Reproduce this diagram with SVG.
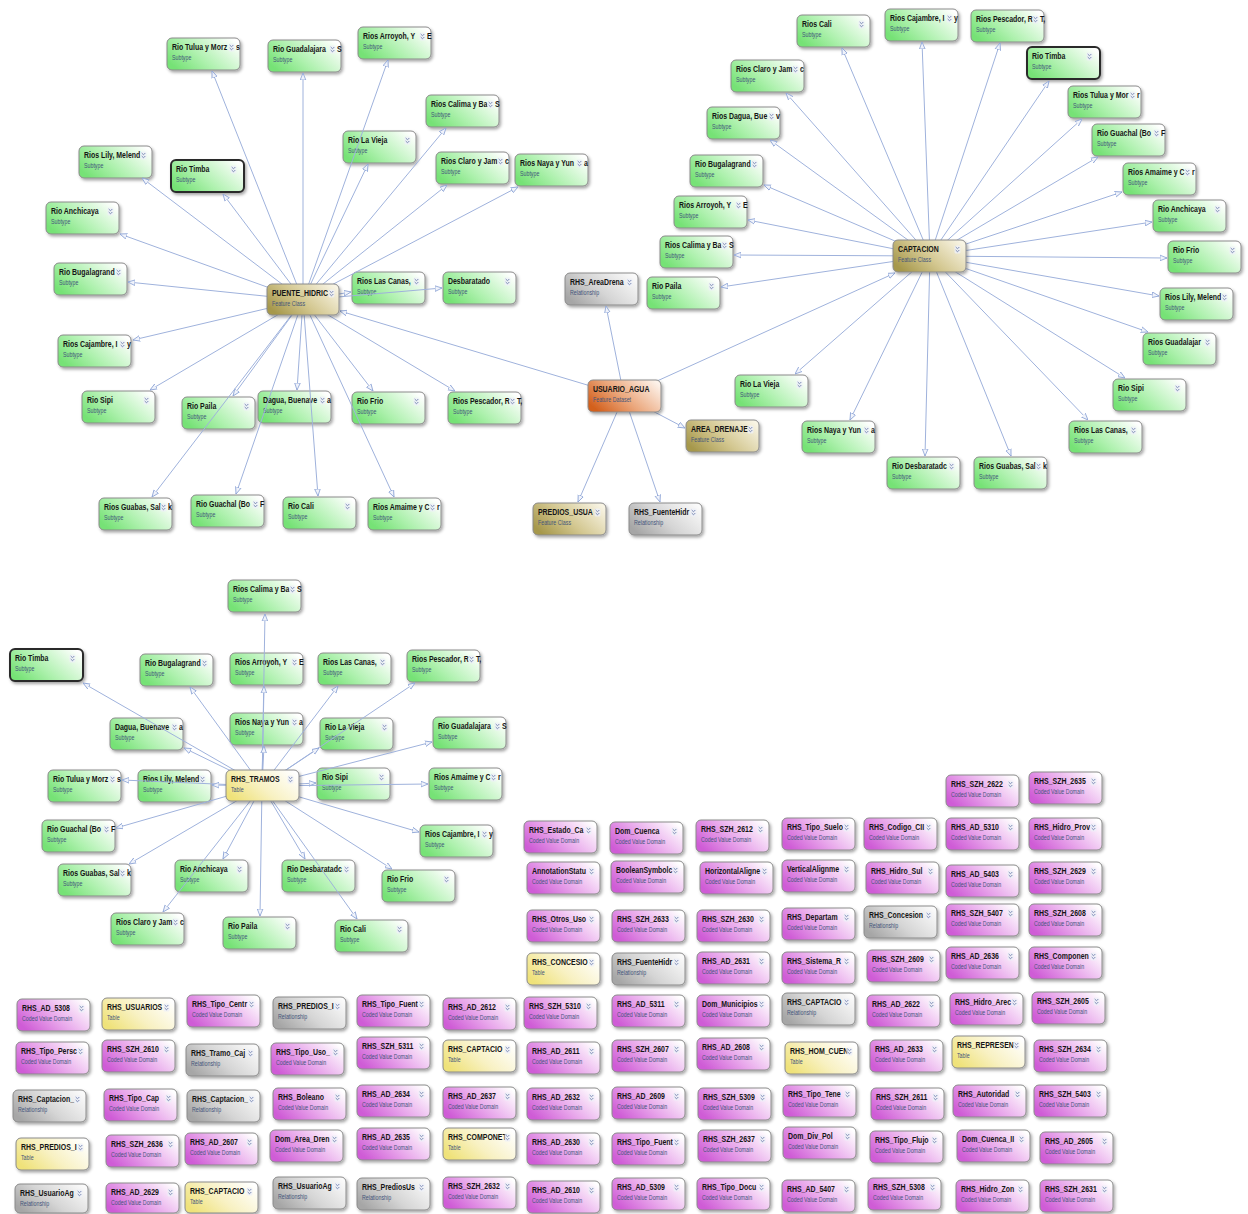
<svg xmlns="http://www.w3.org/2000/svg" xmlns:xlink="http://www.w3.org/1999/xlink" width="1248" height="1214" viewBox="0 0 1248 1214">
<style>
.b{stroke:#8a8a8a;stroke-width:1;filter:url(#sh)}
.bold{stroke:#2b2b2b;stroke-width:2}
.sub{fill:url(#gG)}.cvd{fill:url(#gM)}.tab{fill:url(#gY)}.rel{fill:url(#gR)}.fc{fill:url(#gO)}.fd{fill:url(#gD)}
.t{font-family:"Liberation Sans",Arial,sans-serif;font-weight:bold;font-size:8.5px;fill:#151515;transform:scale(.82,1)}
.s{font-family:"Liberation Sans",Arial,sans-serif;font-size:6.5px;fill:#44557a;transform:scale(.82,1)}
.c line{stroke:#9fb2dc;stroke-width:1;marker-end:url(#ar)}
</style>
<defs>
<filter id="sh" x="-20%" y="-20%" width="150%" height="160%"><feDropShadow dx="1.5" dy="2" stdDeviation="1.4" flood-color="#000" flood-opacity="0.35"/></filter>
<linearGradient id="gG" x1="0" y1="0.7" x2="1" y2="0.2"><stop offset="0" stop-color="#76e276"/><stop offset="0.4" stop-color="#aef1ae"/><stop offset="1" stop-color="#ffffff"/></linearGradient>
<linearGradient id="gM" x1="0" y1="0.7" x2="1" y2="0.2"><stop offset="0" stop-color="#cf5cd6"/><stop offset="0.45" stop-color="#e8a6eb"/><stop offset="1" stop-color="#ffffff"/></linearGradient>
<linearGradient id="gY" x1="0" y1="0.7" x2="1" y2="0.2"><stop offset="0" stop-color="#efe27a"/><stop offset="0.45" stop-color="#f8f1c2"/><stop offset="1" stop-color="#ffffff"/></linearGradient>
<linearGradient id="gR" x1="0" y1="0.7" x2="1" y2="0.2"><stop offset="0" stop-color="#a6a6a6"/><stop offset="0.45" stop-color="#d5d5d5"/><stop offset="1" stop-color="#fafafa"/></linearGradient>
<linearGradient id="gO" x1="0" y1="0.7" x2="1" y2="0.2"><stop offset="0" stop-color="#a6984c"/><stop offset="0.45" stop-color="#d3c790"/><stop offset="1" stop-color="#f8f4e4"/></linearGradient>
<linearGradient id="gD" x1="0" y1="0.7" x2="1" y2="0.2"><stop offset="0" stop-color="#d3601d"/><stop offset="0.45" stop-color="#eba77c"/><stop offset="1" stop-color="#fdf2ea"/></linearGradient>
<marker id="ar" viewBox="0 0 10 10" refX="10" refY="5" markerWidth="7" markerHeight="7" markerUnits="userSpaceOnUse" orient="auto"><path d="M0,1 L10,5 L0,9 Z" fill="#f0f3fb" stroke="#8ea5d6" stroke-width="1.2"/></marker>
<g id="ic"><rect x="-0.5" y="-0.5" width="6" height="8" rx="1.5" fill="#eef0f8" opacity="0.8"/><path d="M0.7,1 L2.5,2.8 L4.3,1 M0.7,4 L2.5,5.8 L4.3,4" fill="none" stroke="#6f7fae" stroke-width="0.9"/></g>
</defs>
<rect width="1248" height="1214" fill="#ffffff"/>

<g id="leaves">
<!-- PUENTE_HIDRIC cluster -->
<g id="a1" transform="translate(167 38)"><rect class="b sub" width="73" height="32" rx="5"/><text class="t" x="6" y="12">Rio Tulua y Morz</text><text class="s" x="6" y="22">Subtype</text><use href="#ic" x="62" y="6"/><text class="t" x="84" y="12">s</text></g>
<g id="a2" transform="translate(268 40)"><rect class="b sub" width="73" height="32" rx="5"/><text class="t" x="6" y="12">Rio Guadalajara</text><text class="s" x="6" y="22">Subtype</text><use href="#ic" x="62" y="6"/><text class="t" x="84" y="12">S</text></g>
<g id="a3" transform="translate(358 27)"><rect class="b sub" width="73" height="32" rx="5"/><text class="t" x="6" y="12">Rios Arroyoh, Y</text><text class="s" x="6" y="22">Subtype</text><use href="#ic" x="62" y="6"/><text class="t" x="84" y="12">E</text></g>
<g id="a4" transform="translate(79 146)"><rect class="b sub" width="73" height="32" rx="5"/><text class="t" x="6" y="12">Rios Lily, Melend</text><text class="s" x="6" y="22">Subtype</text><use href="#ic" x="62" y="6"/></g>
<g id="a5" transform="translate(171 160)"><rect class="b sub bold" width="73" height="32" rx="5"/><text class="t" x="6" y="12">Rio Timba</text><text class="s" x="6" y="22">Subtype</text><use href="#ic" x="60" y="6"/></g>
<g id="a6" transform="translate(46 202)"><rect class="b sub" width="73" height="32" rx="5"/><text class="t" x="6" y="12">Rio Anchicaya</text><text class="s" x="6" y="22">Subtype</text><use href="#ic" x="62" y="6"/></g>
<g id="a7" transform="translate(54 263)"><rect class="b sub" width="73" height="32" rx="5"/><text class="t" x="6" y="12">Rio Bugalagrand</text><text class="s" x="6" y="22">Subtype</text><use href="#ic" x="62" y="6"/></g>
<g id="a8" transform="translate(426 95)"><rect class="b sub" width="73" height="32" rx="5"/><text class="t" x="6" y="12">Rios Calima y Ba</text><text class="s" x="6" y="22">Subtype</text><use href="#ic" x="62" y="6"/><text class="t" x="84" y="12">S</text></g>
<g id="a9" transform="translate(343 131)"><rect class="b sub" width="73" height="32" rx="5"/><text class="t" x="6" y="12">Rio La Vieja</text><text class="s" x="6" y="22">Subtype</text><use href="#ic" x="62" y="6"/></g>
<g id="a10" transform="translate(436 152)"><rect class="b sub" width="73" height="32" rx="5"/><text class="t" x="6" y="12">Rios Claro y Jam</text><text class="s" x="6" y="22">Subtype</text><use href="#ic" x="62" y="6"/><text class="t" x="84" y="12">c</text></g>
<g id="a11" transform="translate(515 154)"><rect class="b sub" width="73" height="32" rx="5"/><text class="t" x="6" y="12">Rios Naya y Yun</text><text class="s" x="6" y="22">Subtype</text><use href="#ic" x="62" y="6"/><text class="t" x="84" y="12">a</text></g>
<g id="a12" transform="translate(352 272)"><rect class="b sub" width="73" height="32" rx="5"/><text class="t" x="6" y="12">Rios Las Canas,</text><text class="s" x="6" y="22">Subtype</text><use href="#ic" x="62" y="6"/></g>
<g id="a13" transform="translate(443 272)"><rect class="b sub" width="73" height="32" rx="5"/><text class="t" x="6" y="12">Desbaratado</text><text class="s" x="6" y="22">Subtype</text><use href="#ic" x="62" y="6"/></g>
<g id="a14" transform="translate(58 335)"><rect class="b sub" width="73" height="32" rx="5"/><text class="t" x="6" y="12">Rios Cajambre, I</text><text class="s" x="6" y="22">Subtype</text><use href="#ic" x="62" y="6"/><text class="t" x="84" y="12">y</text></g>
<g id="a15" transform="translate(82 391)"><rect class="b sub" width="73" height="32" rx="5"/><text class="t" x="6" y="12">Rio Sipi</text><text class="s" x="6" y="22">Subtype</text><use href="#ic" x="62" y="6"/></g>
<g id="a16" transform="translate(182 397)"><rect class="b sub" width="73" height="32" rx="5"/><text class="t" x="6" y="12">Rio Paila</text><text class="s" x="6" y="22">Subtype</text><use href="#ic" x="62" y="6"/></g>
<g id="a17" transform="translate(258 391)"><rect class="b sub" width="73" height="32" rx="5"/><text class="t" x="6" y="12">Dagua, Buenave</text><text class="s" x="6" y="22">Subtype</text><use href="#ic" x="62" y="6"/><text class="t" x="84" y="12">a</text></g>
<g id="a18" transform="translate(352 392)"><rect class="b sub" width="73" height="32" rx="5"/><text class="t" x="6" y="12">Rio Frio</text><text class="s" x="6" y="22">Subtype</text><use href="#ic" x="62" y="6"/></g>
<g id="a19" transform="translate(448 392)"><rect class="b sub" width="73" height="32" rx="5"/><text class="t" x="6" y="12">Rios Pescador, R</text><text class="s" x="6" y="22">Subtype</text><use href="#ic" x="62" y="6"/><text class="t" x="84" y="12">T,</text></g>
<g id="a20" transform="translate(99 498)"><rect class="b sub" width="73" height="32" rx="5"/><text class="t" x="6" y="12">Rios Guabas, Sal</text><text class="s" x="6" y="22">Subtype</text><use href="#ic" x="62" y="6"/><text class="t" x="84" y="12">k</text></g>
<g id="a21" transform="translate(191 495)"><rect class="b sub" width="73" height="32" rx="5"/><text class="t" x="6" y="12">Rio Guachal (Bo</text><text class="s" x="6" y="22">Subtype</text><use href="#ic" x="62" y="6"/><text class="t" x="84" y="12">F</text></g>
<g id="a22" transform="translate(283 497)"><rect class="b sub" width="73" height="32" rx="5"/><text class="t" x="6" y="12">Rio Cali</text><text class="s" x="6" y="22">Subtype</text><use href="#ic" x="62" y="6"/></g>
<g id="a23" transform="translate(368 498)"><rect class="b sub" width="73" height="32" rx="5"/><text class="t" x="6" y="12">Rios Amaime y C</text><text class="s" x="6" y="22">Subtype</text><use href="#ic" x="62" y="6"/><text class="t" x="84" y="12">r</text></g>

<!-- USUARIO_AGUA children -->
<g id="m1" transform="translate(565 273)"><rect class="b rel" width="73" height="32" rx="5"/><text class="t" x="6" y="12">RHS_AreaDrena</text><text class="s" x="6" y="22">Relationship</text><use href="#ic" x="62" y="6"/></g>
<g id="m2" transform="translate(686 420)"><rect class="b fc" width="73" height="32" rx="5"/><text class="t" x="6" y="12">AREA_DRENAJE</text><text class="s" x="6" y="22">Feature Class</text><use href="#ic" x="62" y="6"/></g>
<g id="m3" transform="translate(533 503)"><rect class="b fc" width="73" height="32" rx="5"/><text class="t" x="6" y="12">PREDIOS_USUA</text><text class="s" x="6" y="22">Feature Class</text><use href="#ic" x="62" y="6"/></g>
<g id="m4" transform="translate(629 503)"><rect class="b rel" width="73" height="32" rx="5"/><text class="t" x="6" y="12">RHS_FuenteHidr</text><text class="s" x="6" y="22">Relationship</text><use href="#ic" x="62" y="6"/></g>

<!-- CAPTACION cluster -->
<g id="c1" transform="translate(797 15)"><rect class="b sub" width="73" height="32" rx="5"/><text class="t" x="6" y="12">Rios Cali</text><text class="s" x="6" y="22">Subtype</text><use href="#ic" x="62" y="6"/></g>
<g id="c2" transform="translate(885 9)"><rect class="b sub" width="73" height="32" rx="5"/><text class="t" x="6" y="12">Rios Cajambre, I</text><text class="s" x="6" y="22">Subtype</text><use href="#ic" x="62" y="6"/><text class="t" x="84" y="12">y</text></g>
<g id="c3" transform="translate(971 10)"><rect class="b sub" width="73" height="32" rx="5"/><text class="t" x="6" y="12">Rios Pescador, R</text><text class="s" x="6" y="22">Subtype</text><use href="#ic" x="62" y="6"/><text class="t" x="84" y="12">T,</text></g>
<g id="c4" transform="translate(1027 47)"><rect class="b sub bold" width="73" height="32" rx="5"/><text class="t" x="6" y="12">Rio Timba</text><text class="s" x="6" y="22">Subtype</text><use href="#ic" x="60" y="6"/></g>
<g id="c5" transform="translate(731 60)"><rect class="b sub" width="73" height="32" rx="5"/><text class="t" x="6" y="12">Rios Claro y Jam</text><text class="s" x="6" y="22">Subtype</text><use href="#ic" x="62" y="6"/><text class="t" x="84" y="12">c</text></g>
<g id="c6" transform="translate(1068 86)"><rect class="b sub" width="73" height="32" rx="5"/><text class="t" x="6" y="12">Rios Tulua y Mor</text><text class="s" x="6" y="22">Subtype</text><use href="#ic" x="62" y="6"/><text class="t" x="84" y="12">r</text></g>
<g id="c7" transform="translate(707 107)"><rect class="b sub" width="73" height="32" rx="5"/><text class="t" x="6" y="12">Rios Dagua, Bue</text><text class="s" x="6" y="22">Subtype</text><use href="#ic" x="62" y="6"/><text class="t" x="84" y="12">v</text></g>
<g id="c8" transform="translate(1092 124)"><rect class="b sub" width="73" height="32" rx="5"/><text class="t" x="6" y="12">Rio Guachal (Bo</text><text class="s" x="6" y="22">Subtype</text><use href="#ic" x="62" y="6"/><text class="t" x="84" y="12">F</text></g>
<g id="c9" transform="translate(690 155)"><rect class="b sub" width="73" height="32" rx="5"/><text class="t" x="6" y="12">Rio Bugalagrand</text><text class="s" x="6" y="22">Subtype</text><use href="#ic" x="62" y="6"/></g>
<g id="c10" transform="translate(1123 163)"><rect class="b sub" width="73" height="32" rx="5"/><text class="t" x="6" y="12">Rios Amaime y C</text><text class="s" x="6" y="22">Subtype</text><use href="#ic" x="62" y="6"/><text class="t" x="84" y="12">r</text></g>
<g id="c11" transform="translate(674 196)"><rect class="b sub" width="73" height="32" rx="5"/><text class="t" x="6" y="12">Rios Arroyoh, Y</text><text class="s" x="6" y="22">Subtype</text><use href="#ic" x="62" y="6"/><text class="t" x="84" y="12">E</text></g>
<g id="c12" transform="translate(1153 200)"><rect class="b sub" width="73" height="32" rx="5"/><text class="t" x="6" y="12">Rio Anchicaya</text><text class="s" x="6" y="22">Subtype</text><use href="#ic" x="62" y="6"/></g>
<g id="c13" transform="translate(660 236)"><rect class="b sub" width="73" height="32" rx="5"/><text class="t" x="6" y="12">Rios Calima y Ba</text><text class="s" x="6" y="22">Subtype</text><use href="#ic" x="62" y="6"/><text class="t" x="84" y="12">S</text></g>
<g id="c14" transform="translate(1168 241)"><rect class="b sub" width="73" height="32" rx="5"/><text class="t" x="6" y="12">Rio Frio</text><text class="s" x="6" y="22">Subtype</text><use href="#ic" x="62" y="6"/></g>
<g id="c15" transform="translate(647 277)"><rect class="b sub" width="73" height="32" rx="5"/><text class="t" x="6" y="12">Rio Paila</text><text class="s" x="6" y="22">Subtype</text><use href="#ic" x="62" y="6"/></g>
<g id="c16" transform="translate(1160 288)"><rect class="b sub" width="73" height="32" rx="5"/><text class="t" x="6" y="12">Rios Lily, Melend</text><text class="s" x="6" y="22">Subtype</text><use href="#ic" x="62" y="6"/></g>
<g id="c17" transform="translate(1143 333)"><rect class="b sub" width="73" height="32" rx="5"/><text class="t" x="6" y="12">Rios Guadalajar</text><text class="s" x="6" y="22">Subtype</text><use href="#ic" x="62" y="6"/></g>
<g id="c18" transform="translate(735 375)"><rect class="b sub" width="73" height="32" rx="5"/><text class="t" x="6" y="12">Rio La Vieja</text><text class="s" x="6" y="22">Subtype</text><use href="#ic" x="62" y="6"/></g>
<g id="c19" transform="translate(1113 379)"><rect class="b sub" width="73" height="32" rx="5"/><text class="t" x="6" y="12">Rio Sipi</text><text class="s" x="6" y="22">Subtype</text><use href="#ic" x="62" y="6"/></g>
<g id="c20" transform="translate(802 421)"><rect class="b sub" width="73" height="32" rx="5"/><text class="t" x="6" y="12">Rios Naya y Yun</text><text class="s" x="6" y="22">Subtype</text><use href="#ic" x="62" y="6"/><text class="t" x="84" y="12">a</text></g>
<g id="c21" transform="translate(1069 421)"><rect class="b sub" width="73" height="32" rx="5"/><text class="t" x="6" y="12">Rios Las Canas,</text><text class="s" x="6" y="22">Subtype</text><use href="#ic" x="62" y="6"/></g>
<g id="c22" transform="translate(887 457)"><rect class="b sub" width="73" height="32" rx="5"/><text class="t" x="6" y="12">Rio Desbaratadc</text><text class="s" x="6" y="22">Subtype</text><use href="#ic" x="62" y="6"/></g>
<g id="c23" transform="translate(974 457)"><rect class="b sub" width="73" height="32" rx="5"/><text class="t" x="6" y="12">Rios Guabas, Sal</text><text class="s" x="6" y="22">Subtype</text><use href="#ic" x="62" y="6"/><text class="t" x="84" y="12">k</text></g>

<!-- RHS_TRAMOS cluster -->
<g id="t1" transform="translate(228 580)"><rect class="b sub" width="73" height="32" rx="5"/><text class="t" x="6" y="12">Rios Calima y Ba</text><text class="s" x="6" y="22">Subtype</text><use href="#ic" x="62" y="6"/><text class="t" x="84" y="12">S</text></g>
<g id="t2" transform="translate(10 649)"><rect class="b sub bold" width="73" height="32" rx="5"/><text class="t" x="6" y="12">Rio Timba</text><text class="s" x="6" y="22">Subtype</text><use href="#ic" x="60" y="6"/></g>
<g id="t3" transform="translate(140 654)"><rect class="b sub" width="73" height="32" rx="5"/><text class="t" x="6" y="12">Rio Bugalagrand</text><text class="s" x="6" y="22">Subtype</text><use href="#ic" x="62" y="6"/></g>
<g id="t4" transform="translate(230 653)"><rect class="b sub" width="73" height="32" rx="5"/><text class="t" x="6" y="12">Rios Arroyoh, Y</text><text class="s" x="6" y="22">Subtype</text><use href="#ic" x="62" y="6"/><text class="t" x="84" y="12">E</text></g>
<g id="t5" transform="translate(318 653)"><rect class="b sub" width="73" height="32" rx="5"/><text class="t" x="6" y="12">Rios Las Canas,</text><text class="s" x="6" y="22">Subtype</text><use href="#ic" x="62" y="6"/></g>
<g id="t6" transform="translate(407 650)"><rect class="b sub" width="73" height="32" rx="5"/><text class="t" x="6" y="12">Rios Pescador, R</text><text class="s" x="6" y="22">Subtype</text><use href="#ic" x="62" y="6"/><text class="t" x="84" y="12">T,</text></g>
<g id="t7" transform="translate(110 718)"><rect class="b sub" width="73" height="32" rx="5"/><text class="t" x="6" y="12">Dagua, Buenave</text><text class="s" x="6" y="22">Subtype</text><use href="#ic" x="62" y="6"/><text class="t" x="84" y="12">a</text></g>
<g id="t8" transform="translate(230 713)"><rect class="b sub" width="73" height="32" rx="5"/><text class="t" x="6" y="12">Rios Naya y Yun</text><text class="s" x="6" y="22">Subtype</text><use href="#ic" x="62" y="6"/><text class="t" x="84" y="12">a</text></g>
<g id="t9" transform="translate(320 718)"><rect class="b sub" width="73" height="32" rx="5"/><text class="t" x="6" y="12">Rio La Vieja</text><text class="s" x="6" y="22">Subtype</text><use href="#ic" x="62" y="6"/></g>
<g id="t10" transform="translate(433 717)"><rect class="b sub" width="73" height="32" rx="5"/><text class="t" x="6" y="12">Rio Guadalajara</text><text class="s" x="6" y="22">Subtype</text><use href="#ic" x="62" y="6"/><text class="t" x="84" y="12">S</text></g>
<g id="t11" transform="translate(48 770)"><rect class="b sub" width="73" height="32" rx="5"/><text class="t" x="6" y="12">Rio Tulua y Morz</text><text class="s" x="6" y="22">Subtype</text><use href="#ic" x="62" y="6"/><text class="t" x="84" y="12">s</text></g>
<g id="t12" transform="translate(138 770)"><rect class="b sub" width="73" height="32" rx="5"/><text class="t" x="6" y="12">Rios Lily, Melend</text><text class="s" x="6" y="22">Subtype</text><use href="#ic" x="62" y="6"/></g>
<g id="t13" transform="translate(317 768)"><rect class="b sub" width="73" height="32" rx="5"/><text class="t" x="6" y="12">Rio Sipi</text><text class="s" x="6" y="22">Subtype</text><use href="#ic" x="62" y="6"/></g>
<g id="t14" transform="translate(429 768)"><rect class="b sub" width="73" height="32" rx="5"/><text class="t" x="6" y="12">Rios Amaime y C</text><text class="s" x="6" y="22">Subtype</text><use href="#ic" x="62" y="6"/><text class="t" x="84" y="12">r</text></g>
<g id="t15" transform="translate(42 820)"><rect class="b sub" width="73" height="32" rx="5"/><text class="t" x="6" y="12">Rio Guachal (Bo</text><text class="s" x="6" y="22">Subtype</text><use href="#ic" x="62" y="6"/><text class="t" x="84" y="12">F</text></g>
<g id="t16" transform="translate(420 825)"><rect class="b sub" width="73" height="32" rx="5"/><text class="t" x="6" y="12">Rios Cajambre, I</text><text class="s" x="6" y="22">Subtype</text><use href="#ic" x="62" y="6"/><text class="t" x="84" y="12">y</text></g>
<g id="t17" transform="translate(58 864)"><rect class="b sub" width="73" height="32" rx="5"/><text class="t" x="6" y="12">Rios Guabas, Sal</text><text class="s" x="6" y="22">Subtype</text><use href="#ic" x="62" y="6"/><text class="t" x="84" y="12">k</text></g>
<g id="t18" transform="translate(175 860)"><rect class="b sub" width="73" height="32" rx="5"/><text class="t" x="6" y="12">Rio Anchicaya</text><text class="s" x="6" y="22">Subtype</text><use href="#ic" x="62" y="6"/></g>
<g id="t19" transform="translate(282 860)"><rect class="b sub" width="73" height="32" rx="5"/><text class="t" x="6" y="12">Rio Desbaratadc</text><text class="s" x="6" y="22">Subtype</text><use href="#ic" x="62" y="6"/></g>
<g id="t20" transform="translate(382 870)"><rect class="b sub" width="73" height="32" rx="5"/><text class="t" x="6" y="12">Rio Frio</text><text class="s" x="6" y="22">Subtype</text><use href="#ic" x="62" y="6"/></g>
<g id="t21" transform="translate(111 913)"><rect class="b sub" width="73" height="32" rx="5"/><text class="t" x="6" y="12">Rios Claro y Jam</text><text class="s" x="6" y="22">Subtype</text><use href="#ic" x="62" y="6"/><text class="t" x="84" y="12">c</text></g>
<g id="t22" transform="translate(223 917)"><rect class="b sub" width="73" height="32" rx="5"/><text class="t" x="6" y="12">Rio Paila</text><text class="s" x="6" y="22">Subtype</text><use href="#ic" x="62" y="6"/></g>
<g id="t23" transform="translate(335 920)"><rect class="b sub" width="73" height="32" rx="5"/><text class="t" x="6" y="12">Rio Cali</text><text class="s" x="6" y="22">Subtype</text><use href="#ic" x="62" y="6"/></g>
</g>

<g id="connectors" class="c">
<line x1="303" y1="300" x2="212" y2="71"/><line x1="303" y1="300" x2="303" y2="73"/><line x1="303" y1="300" x2="388" y2="60"/><line x1="303" y1="300" x2="142" y2="178"/><line x1="303" y1="300" x2="223" y2="194"/><line x1="303" y1="300" x2="120" y2="234"/><line x1="303" y1="300" x2="128" y2="282"/><line x1="303" y1="300" x2="446" y2="128"/><line x1="303" y1="300" x2="368" y2="164"/><line x1="303" y1="300" x2="447" y2="185"/><line x1="303" y1="300" x2="518" y2="187"/><line x1="303" y1="300" x2="351" y2="292"/><line x1="303" y1="300" x2="442" y2="288"/><line x1="303" y1="300" x2="133" y2="340"/><line x1="303" y1="300" x2="150" y2="390"/><line x1="303" y1="300" x2="233" y2="396"/><line x1="303" y1="300" x2="297" y2="390"/><line x1="303" y1="300" x2="373" y2="391"/><line x1="303" y1="300" x2="455" y2="391"/><line x1="303" y1="300" x2="152" y2="497"/><line x1="303" y1="300" x2="236" y2="494"/><line x1="303" y1="300" x2="318" y2="496"/><line x1="303" y1="300" x2="394" y2="497"/>
<line x1="624" y1="396" x2="340" y2="311"/><line x1="624" y1="396" x2="895" y2="273"/><line x1="624" y1="396" x2="606" y2="306"/><line x1="624" y1="396" x2="685" y2="428"/><line x1="624" y1="396" x2="578" y2="502"/><line x1="624" y1="396" x2="660" y2="502"/>
<line x1="930" y1="256" x2="842" y2="48"/><line x1="930" y1="256" x2="922" y2="42"/><line x1="930" y1="256" x2="1000" y2="43"/><line x1="930" y1="256" x2="1049" y2="81"/><line x1="930" y1="256" x2="786" y2="93"/><line x1="930" y1="256" x2="1082" y2="119"/><line x1="930" y1="256" x2="770" y2="140"/><line x1="930" y1="256" x2="1098" y2="157"/><line x1="930" y1="256" x2="764" y2="185"/><line x1="930" y1="256" x2="1122" y2="192"/><line x1="930" y1="256" x2="748" y2="220"/><line x1="930" y1="256" x2="1152" y2="222"/><line x1="930" y1="256" x2="734" y2="255"/><line x1="930" y1="256" x2="1167" y2="258"/><line x1="930" y1="256" x2="721" y2="287"/><line x1="930" y1="256" x2="1159" y2="296"/><line x1="930" y1="256" x2="1148" y2="332"/><line x1="930" y1="256" x2="795" y2="374"/><line x1="930" y1="256" x2="1125" y2="378"/><line x1="930" y1="256" x2="850" y2="420"/><line x1="930" y1="256" x2="1088" y2="420"/><line x1="930" y1="256" x2="925" y2="456"/><line x1="930" y1="256" x2="1011" y2="456"/>
<line x1="262" y1="786" x2="265" y2="614"/><line x1="262" y1="786" x2="264" y2="686"/><line x1="262" y1="786" x2="264" y2="746"/><line x1="262" y1="786" x2="338" y2="686"/><line x1="262" y1="786" x2="415" y2="683"/><line x1="262" y1="786" x2="319" y2="748"/><line x1="262" y1="786" x2="432" y2="742"/><line x1="262" y1="786" x2="316" y2="783"/><line x1="262" y1="786" x2="428" y2="784"/><line x1="262" y1="786" x2="419" y2="832"/><line x1="262" y1="786" x2="392" y2="869"/><line x1="262" y1="786" x2="305" y2="859"/><line x1="262" y1="786" x2="357" y2="919"/><line x1="262" y1="786" x2="260" y2="916"/><line x1="262" y1="786" x2="223" y2="859"/><line x1="262" y1="786" x2="163" y2="912"/><line x1="262" y1="786" x2="129" y2="864"/><line x1="262" y1="786" x2="116" y2="828"/><line x1="262" y1="786" x2="122" y2="780"/><line x1="262" y1="786" x2="212" y2="785"/><line x1="262" y1="786" x2="184" y2="748"/><line x1="262" y1="786" x2="83" y2="683"/><line x1="262" y1="786" x2="190" y2="687"/>
</g>

<g id="hubs">
<g id="puente" transform="translate(267 284)"><rect class="b fc" width="72" height="31" rx="5"/><text class="t" x="6" y="12">PUENTE_HIDRIC</text><text class="s" x="6" y="22">Feature Class</text><use href="#ic" x="62" y="6"/></g>
<g id="usuario" transform="translate(588 380)"><rect class="b fd" width="73" height="32" rx="5"/><text class="t" x="6" y="12">USUARIO_AGUA</text><text class="s" x="6" y="22">Feature Dataset</text></g>
<g id="captacion" transform="translate(893 240)"><rect class="b fc" width="73" height="32" rx="5"/><text class="t" x="6" y="12">CAPTACION</text><text class="s" x="6" y="22">Feature Class</text><use href="#ic" x="62" y="6"/></g>
<g id="tramos" transform="translate(226 770)"><rect class="b tab" width="73" height="31" rx="5"/><text class="t" x="6" y="12">RHS_TRAMOS</text><text class="s" x="6" y="22">Table</text><use href="#ic" x="62" y="6"/></g>
</g>

<g id="grid-left">
<g id="g1" transform="translate(17 999)"><rect class="b cvd" width="73" height="32" rx="5"/><text class="t" x="6" y="12">RHS_AD_5308</text><text class="s" x="6" y="22">Coded Value Domain</text><use href="#ic" x="62" y="6"/></g>
<g id="g2" transform="translate(102 998)"><rect class="b tab" width="73" height="32" rx="5"/><text class="t" x="6" y="12">RHS_USUARIOS</text><text class="s" x="6" y="22">Table</text><use href="#ic" x="62" y="6"/></g>
<g id="g3" transform="translate(187 995)"><rect class="b cvd" width="73" height="32" rx="5"/><text class="t" x="6" y="12">RHS_Tipo_Centr</text><text class="s" x="6" y="22">Coded Value Domain</text><use href="#ic" x="62" y="6"/></g>
<g id="g4" transform="translate(273 997)"><rect class="b rel" width="73" height="32" rx="5"/><text class="t" x="6" y="12">RHS_PREDIOS_I</text><text class="s" x="6" y="22">Relationship</text><use href="#ic" x="62" y="6"/></g>
<g id="g5" transform="translate(357 995)"><rect class="b cvd" width="73" height="32" rx="5"/><text class="t" x="6" y="12">RHS_Tipo_Fuent</text><text class="s" x="6" y="22">Coded Value Domain</text><use href="#ic" x="62" y="6"/></g>
<g id="g6" transform="translate(443 998)"><rect class="b cvd" width="73" height="32" rx="5"/><text class="t" x="6" y="12">RHS_AD_2612</text><text class="s" x="6" y="22">Coded Value Domain</text><use href="#ic" x="62" y="6"/></g>
<g id="g7" transform="translate(16 1042)"><rect class="b cvd" width="73" height="32" rx="5"/><text class="t" x="6" y="12">RHS_Tipo_Persc</text><text class="s" x="6" y="22">Coded Value Domain</text><use href="#ic" x="62" y="6"/></g>
<g id="g8" transform="translate(102 1040)"><rect class="b cvd" width="73" height="32" rx="5"/><text class="t" x="6" y="12">RHS_SZH_2610</text><text class="s" x="6" y="22">Coded Value Domain</text><use href="#ic" x="62" y="6"/></g>
<g id="g9" transform="translate(186 1044)"><rect class="b rel" width="73" height="32" rx="5"/><text class="t" x="6" y="12">RHS_Tramo_Caj</text><text class="s" x="6" y="22">Relationship</text><use href="#ic" x="62" y="6"/></g>
<g id="g10" transform="translate(271 1043)"><rect class="b cvd" width="73" height="32" rx="5"/><text class="t" x="6" y="12">RHS_Tipo_Uso_</text><text class="s" x="6" y="22">Coded Value Domain</text><use href="#ic" x="62" y="6"/></g>
<g id="g11" transform="translate(357 1037)"><rect class="b cvd" width="73" height="32" rx="5"/><text class="t" x="6" y="12">RHS_SZH_5311</text><text class="s" x="6" y="22">Coded Value Domain</text><use href="#ic" x="62" y="6"/></g>
<g id="g12" transform="translate(443 1040)"><rect class="b tab" width="73" height="32" rx="5"/><text class="t" x="6" y="12">RHS_CAPTACIO</text><text class="s" x="6" y="22">Table</text><use href="#ic" x="62" y="6"/></g>
<g id="g13" transform="translate(13 1090)"><rect class="b rel" width="73" height="32" rx="5"/><text class="t" x="6" y="12">RHS_Captacion_</text><text class="s" x="6" y="22">Relationship</text><use href="#ic" x="62" y="6"/></g>
<g id="g14" transform="translate(104 1089)"><rect class="b cvd" width="73" height="32" rx="5"/><text class="t" x="6" y="12">RHS_Tipo_Cap</text><text class="s" x="6" y="22">Coded Value Domain</text><use href="#ic" x="62" y="6"/></g>
<g id="g15" transform="translate(187 1090)"><rect class="b rel" width="73" height="32" rx="5"/><text class="t" x="6" y="12">RHS_Captacion_</text><text class="s" x="6" y="22">Relationship</text><use href="#ic" x="62" y="6"/></g>
<g id="g16" transform="translate(273 1088)"><rect class="b cvd" width="73" height="32" rx="5"/><text class="t" x="6" y="12">RHS_Boleano</text><text class="s" x="6" y="22">Coded Value Domain</text><use href="#ic" x="62" y="6"/></g>
<g id="g17" transform="translate(357 1085)"><rect class="b cvd" width="73" height="32" rx="5"/><text class="t" x="6" y="12">RHS_AD_2634</text><text class="s" x="6" y="22">Coded Value Domain</text><use href="#ic" x="62" y="6"/></g>
<g id="g18" transform="translate(443 1087)"><rect class="b cvd" width="73" height="32" rx="5"/><text class="t" x="6" y="12">RHS_AD_2637</text><text class="s" x="6" y="22">Coded Value Domain</text><use href="#ic" x="62" y="6"/></g>
<g id="g19" transform="translate(16 1138)"><rect class="b tab" width="73" height="32" rx="5"/><text class="t" x="6" y="12">RHS_PREDIOS_I</text><text class="s" x="6" y="22">Table</text><use href="#ic" x="62" y="6"/></g>
<g id="g20" transform="translate(106 1135)"><rect class="b cvd" width="73" height="32" rx="5"/><text class="t" x="6" y="12">RHS_SZH_2636</text><text class="s" x="6" y="22">Coded Value Domain</text><use href="#ic" x="62" y="6"/></g>
<g id="g21" transform="translate(185 1133)"><rect class="b cvd" width="73" height="32" rx="5"/><text class="t" x="6" y="12">RHS_AD_2607</text><text class="s" x="6" y="22">Coded Value Domain</text><use href="#ic" x="62" y="6"/></g>
<g id="g22" transform="translate(270 1130)"><rect class="b cvd" width="73" height="32" rx="5"/><text class="t" x="6" y="12">Dom_Area_Dren</text><text class="s" x="6" y="22">Coded Value Domain</text><use href="#ic" x="62" y="6"/></g>
<g id="g23" transform="translate(357 1128)"><rect class="b cvd" width="73" height="32" rx="5"/><text class="t" x="6" y="12">RHS_AD_2635</text><text class="s" x="6" y="22">Coded Value Domain</text><use href="#ic" x="62" y="6"/></g>
<g id="g24" transform="translate(443 1128)"><rect class="b tab" width="73" height="32" rx="5"/><text class="t" x="6" y="12">RHS_COMPONET</text><text class="s" x="6" y="22">Table</text><use href="#ic" x="62" y="6"/></g>
<g id="g25" transform="translate(15 1184)"><rect class="b rel" width="73" height="29" rx="5"/><text class="t" x="6" y="12">RHS_UsuarioAg</text><text class="s" x="6" y="22">Relationship</text><use href="#ic" x="62" y="6"/></g>
<g id="g26" transform="translate(106 1183)"><rect class="b cvd" width="73" height="30" rx="5"/><text class="t" x="6" y="12">RHS_AD_2629</text><text class="s" x="6" y="22">Coded Value Domain</text><use href="#ic" x="62" y="6"/></g>
<g id="g27" transform="translate(185 1182)"><rect class="b tab" width="73" height="31" rx="5"/><text class="t" x="6" y="12">RHS_CAPTACIO</text><text class="s" x="6" y="22">Table</text><use href="#ic" x="62" y="6"/></g>
<g id="g28" transform="translate(273 1177)"><rect class="b rel" width="73" height="32" rx="5"/><text class="t" x="6" y="12">RHS_UsuarioAg</text><text class="s" x="6" y="22">Relationship</text><use href="#ic" x="62" y="6"/></g>
<g id="g29" transform="translate(357 1178)"><rect class="b rel" width="73" height="32" rx="5"/><text class="t" x="6" y="12">RHS_PrediosUs</text><text class="s" x="6" y="22">Relationship</text><use href="#ic" x="62" y="6"/></g>
<g id="g30" transform="translate(443 1177)"><rect class="b cvd" width="73" height="32" rx="5"/><text class="t" x="6" y="12">RHS_SZH_2632</text><text class="s" x="6" y="22">Coded Value Domain</text><use href="#ic" x="62" y="6"/></g>
</g>

<g id="grid-right">
<g id="r1" transform="translate(946 775)"><rect class="b cvd" width="73" height="32" rx="5"/><text class="t" x="6" y="12">RHS_SZH_2622</text><text class="s" x="6" y="22">Coded Value Domain</text><use href="#ic" x="62" y="6"/></g>
<g id="r2" transform="translate(1029 772)"><rect class="b cvd" width="73" height="32" rx="5"/><text class="t" x="6" y="12">RHS_SZH_2635</text><text class="s" x="6" y="22">Coded Value Domain</text><use href="#ic" x="62" y="6"/></g>
<g id="r3" transform="translate(524 821)"><rect class="b cvd" width="73" height="32" rx="5"/><text class="t" x="6" y="12">RHS_Estado_Ca</text><text class="s" x="6" y="22">Coded Value Domain</text><use href="#ic" x="62" y="6"/></g>
<g id="r4" transform="translate(610 822)"><rect class="b cvd" width="73" height="32" rx="5"/><text class="t" x="6" y="12">Dom_Cuenca</text><text class="s" x="6" y="22">Coded Value Domain</text><use href="#ic" x="62" y="6"/></g>
<g id="r5" transform="translate(696 820)"><rect class="b cvd" width="73" height="32" rx="5"/><text class="t" x="6" y="12">RHS_SZH_2612</text><text class="s" x="6" y="22">Coded Value Domain</text><use href="#ic" x="62" y="6"/></g>
<g id="r6" transform="translate(782 818)"><rect class="b cvd" width="73" height="32" rx="5"/><text class="t" x="6" y="12">RHS_Tipo_Suelo</text><text class="s" x="6" y="22">Coded Value Domain</text><use href="#ic" x="62" y="6"/></g>
<g id="r7" transform="translate(864 818)"><rect class="b cvd" width="73" height="32" rx="5"/><text class="t" x="6" y="12">RHS_Codigo_CII</text><text class="s" x="6" y="22">Coded Value Domain</text><use href="#ic" x="62" y="6"/></g>
<g id="r8" transform="translate(946 818)"><rect class="b cvd" width="73" height="32" rx="5"/><text class="t" x="6" y="12">RHS_AD_5310</text><text class="s" x="6" y="22">Coded Value Domain</text><use href="#ic" x="62" y="6"/></g>
<g id="r9" transform="translate(1029 818)"><rect class="b cvd" width="73" height="32" rx="5"/><text class="t" x="6" y="12">RHS_Hidro_Prov</text><text class="s" x="6" y="22">Coded Value Domain</text><use href="#ic" x="62" y="6"/></g>
<g id="r10" transform="translate(527 862)"><rect class="b cvd" width="73" height="32" rx="5"/><text class="t" x="6" y="12">AnnotationStatu</text><text class="s" x="6" y="22">Coded Value Domain</text><use href="#ic" x="62" y="6"/></g>
<g id="r11" transform="translate(611 861)"><rect class="b cvd" width="73" height="32" rx="5"/><text class="t" x="6" y="12">BooleanSymbolc</text><text class="s" x="6" y="22">Coded Value Domain</text><use href="#ic" x="62" y="6"/></g>
<g id="r12" transform="translate(700 862)"><rect class="b cvd" width="73" height="32" rx="5"/><text class="t" x="6" y="12">HorizontalAligne</text><text class="s" x="6" y="22">Coded Value Domain</text><use href="#ic" x="62" y="6"/></g>
<g id="r13" transform="translate(782 860)"><rect class="b cvd" width="73" height="32" rx="5"/><text class="t" x="6" y="12">VerticalAlignme</text><text class="s" x="6" y="22">Coded Value Domain</text><use href="#ic" x="62" y="6"/></g>
<g id="r14" transform="translate(866 862)"><rect class="b cvd" width="73" height="32" rx="5"/><text class="t" x="6" y="12">RHS_Hidro_Sul</text><text class="s" x="6" y="22">Coded Value Domain</text><use href="#ic" x="62" y="6"/></g>
<g id="r15" transform="translate(946 865)"><rect class="b cvd" width="73" height="32" rx="5"/><text class="t" x="6" y="12">RHS_AD_5403</text><text class="s" x="6" y="22">Coded Value Domain</text><use href="#ic" x="62" y="6"/></g>
<g id="r16" transform="translate(1029 862)"><rect class="b cvd" width="73" height="32" rx="5"/><text class="t" x="6" y="12">RHS_SZH_2629</text><text class="s" x="6" y="22">Coded Value Domain</text><use href="#ic" x="62" y="6"/></g>
<g id="r17" transform="translate(527 910)"><rect class="b cvd" width="73" height="32" rx="5"/><text class="t" x="6" y="12">RHS_Otros_Uso</text><text class="s" x="6" y="22">Coded Value Domain</text><use href="#ic" x="62" y="6"/></g>
<g id="r18" transform="translate(612 910)"><rect class="b cvd" width="73" height="32" rx="5"/><text class="t" x="6" y="12">RHS_SZH_2633</text><text class="s" x="6" y="22">Coded Value Domain</text><use href="#ic" x="62" y="6"/></g>
<g id="r19" transform="translate(697 910)"><rect class="b cvd" width="73" height="32" rx="5"/><text class="t" x="6" y="12">RHS_SZH_2630</text><text class="s" x="6" y="22">Coded Value Domain</text><use href="#ic" x="62" y="6"/></g>
<g id="r20" transform="translate(782 908)"><rect class="b cvd" width="73" height="32" rx="5"/><text class="t" x="6" y="12">RHS_Departam</text><text class="s" x="6" y="22">Coded Value Domain</text><use href="#ic" x="62" y="6"/></g>
<g id="r21" transform="translate(864 906)"><rect class="b rel" width="73" height="32" rx="5"/><text class="t" x="6" y="12">RHS_Concesion</text><text class="s" x="6" y="22">Relationship</text><use href="#ic" x="62" y="6"/></g>
<g id="r22" transform="translate(946 904)"><rect class="b cvd" width="73" height="32" rx="5"/><text class="t" x="6" y="12">RHS_SZH_5407</text><text class="s" x="6" y="22">Coded Value Domain</text><use href="#ic" x="62" y="6"/></g>
<g id="r23" transform="translate(1029 904)"><rect class="b cvd" width="73" height="32" rx="5"/><text class="t" x="6" y="12">RHS_SZH_2608</text><text class="s" x="6" y="22">Coded Value Domain</text><use href="#ic" x="62" y="6"/></g>
<g id="r24" transform="translate(527 953)"><rect class="b tab" width="73" height="32" rx="5"/><text class="t" x="6" y="12">RHS_CONCESIO</text><text class="s" x="6" y="22">Table</text><use href="#ic" x="62" y="6"/></g>
<g id="r25" transform="translate(612 953)"><rect class="b rel" width="73" height="32" rx="5"/><text class="t" x="6" y="12">RHS_FuenteHidr</text><text class="s" x="6" y="22">Relationship</text><use href="#ic" x="62" y="6"/></g>
<g id="r26" transform="translate(697 952)"><rect class="b cvd" width="73" height="32" rx="5"/><text class="t" x="6" y="12">RHS_AD_2631</text><text class="s" x="6" y="22">Coded Value Domain</text><use href="#ic" x="62" y="6"/></g>
<g id="r27" transform="translate(782 952)"><rect class="b cvd" width="73" height="32" rx="5"/><text class="t" x="6" y="12">RHS_Sistema_R</text><text class="s" x="6" y="22">Coded Value Domain</text><use href="#ic" x="62" y="6"/></g>
<g id="r28" transform="translate(867 950)"><rect class="b cvd" width="73" height="32" rx="5"/><text class="t" x="6" y="12">RHS_SZH_2609</text><text class="s" x="6" y="22">Coded Value Domain</text><use href="#ic" x="62" y="6"/></g>
<g id="r29" transform="translate(946 947)"><rect class="b cvd" width="73" height="32" rx="5"/><text class="t" x="6" y="12">RHS_AD_2636</text><text class="s" x="6" y="22">Coded Value Domain</text><use href="#ic" x="62" y="6"/></g>
<g id="r30" transform="translate(1029 947)"><rect class="b cvd" width="73" height="32" rx="5"/><text class="t" x="6" y="12">RHS_Componen</text><text class="s" x="6" y="22">Coded Value Domain</text><use href="#ic" x="62" y="6"/></g>
<g id="r31" transform="translate(524 997)"><rect class="b cvd" width="73" height="32" rx="5"/><text class="t" x="6" y="12">RHS_SZH_5310</text><text class="s" x="6" y="22">Coded Value Domain</text><use href="#ic" x="62" y="6"/></g>
<g id="r32" transform="translate(612 995)"><rect class="b cvd" width="73" height="32" rx="5"/><text class="t" x="6" y="12">RHS_AD_5311</text><text class="s" x="6" y="22">Coded Value Domain</text><use href="#ic" x="62" y="6"/></g>
<g id="r33" transform="translate(697 995)"><rect class="b cvd" width="73" height="32" rx="5"/><text class="t" x="6" y="12">Dom_Municipios</text><text class="s" x="6" y="22">Coded Value Domain</text><use href="#ic" x="62" y="6"/></g>
<g id="r34" transform="translate(782 993)"><rect class="b rel" width="73" height="32" rx="5"/><text class="t" x="6" y="12">RHS_CAPTACIO</text><text class="s" x="6" y="22">Relationship</text><use href="#ic" x="62" y="6"/></g>
<g id="r35" transform="translate(867 995)"><rect class="b cvd" width="73" height="32" rx="5"/><text class="t" x="6" y="12">RHS_AD_2622</text><text class="s" x="6" y="22">Coded Value Domain</text><use href="#ic" x="62" y="6"/></g>
<g id="r36" transform="translate(950 993)"><rect class="b cvd" width="73" height="32" rx="5"/><text class="t" x="6" y="12">RHS_Hidro_Arec</text><text class="s" x="6" y="22">Coded Value Domain</text><use href="#ic" x="62" y="6"/></g>
<g id="r37" transform="translate(1032 992)"><rect class="b cvd" width="73" height="32" rx="5"/><text class="t" x="6" y="12">RHS_SZH_2605</text><text class="s" x="6" y="22">Coded Value Domain</text><use href="#ic" x="62" y="6"/></g>
<g id="r38" transform="translate(527 1042)"><rect class="b cvd" width="73" height="32" rx="5"/><text class="t" x="6" y="12">RHS_AD_2611</text><text class="s" x="6" y="22">Coded Value Domain</text><use href="#ic" x="62" y="6"/></g>
<g id="r39" transform="translate(612 1040)"><rect class="b cvd" width="73" height="32" rx="5"/><text class="t" x="6" y="12">RHS_SZH_2607</text><text class="s" x="6" y="22">Coded Value Domain</text><use href="#ic" x="62" y="6"/></g>
<g id="r40" transform="translate(697 1038)"><rect class="b cvd" width="73" height="32" rx="5"/><text class="t" x="6" y="12">RHS_AD_2608</text><text class="s" x="6" y="22">Coded Value Domain</text><use href="#ic" x="62" y="6"/></g>
<g id="r41" transform="translate(785 1042)"><rect class="b tab" width="73" height="32" rx="5"/><text class="t" x="6" y="12">RHS_HOM_CUEN</text><text class="s" x="6" y="22">Table</text><use href="#ic" x="62" y="6"/></g>
<g id="r42" transform="translate(870 1040)"><rect class="b cvd" width="73" height="32" rx="5"/><text class="t" x="6" y="12">RHS_AD_2633</text><text class="s" x="6" y="22">Coded Value Domain</text><use href="#ic" x="62" y="6"/></g>
<g id="r43" transform="translate(952 1036)"><rect class="b tab" width="73" height="32" rx="5"/><text class="t" x="6" y="12">RHS_REPRESEN</text><text class="s" x="6" y="22">Table</text><use href="#ic" x="62" y="6"/></g>
<g id="r44" transform="translate(1034 1040)"><rect class="b cvd" width="73" height="32" rx="5"/><text class="t" x="6" y="12">RHS_SZH_2634</text><text class="s" x="6" y="22">Coded Value Domain</text><use href="#ic" x="62" y="6"/></g>
<g id="r45" transform="translate(527 1088)"><rect class="b cvd" width="73" height="32" rx="5"/><text class="t" x="6" y="12">RHS_AD_2632</text><text class="s" x="6" y="22">Coded Value Domain</text><use href="#ic" x="62" y="6"/></g>
<g id="r46" transform="translate(612 1087)"><rect class="b cvd" width="73" height="32" rx="5"/><text class="t" x="6" y="12">RHS_AD_2609</text><text class="s" x="6" y="22">Coded Value Domain</text><use href="#ic" x="62" y="6"/></g>
<g id="r47" transform="translate(698 1088)"><rect class="b cvd" width="73" height="32" rx="5"/><text class="t" x="6" y="12">RHS_SZH_5309</text><text class="s" x="6" y="22">Coded Value Domain</text><use href="#ic" x="62" y="6"/></g>
<g id="r48" transform="translate(783 1085)"><rect class="b cvd" width="73" height="32" rx="5"/><text class="t" x="6" y="12">RHS_Tipo_Tene</text><text class="s" x="6" y="22">Coded Value Domain</text><use href="#ic" x="62" y="6"/></g>
<g id="r49" transform="translate(871 1088)"><rect class="b cvd" width="73" height="32" rx="5"/><text class="t" x="6" y="12">RHS_SZH_2611</text><text class="s" x="6" y="22">Coded Value Domain</text><use href="#ic" x="62" y="6"/></g>
<g id="r50" transform="translate(953 1085)"><rect class="b cvd" width="73" height="32" rx="5"/><text class="t" x="6" y="12">RHS_Autoridad</text><text class="s" x="6" y="22">Coded Value Domain</text><use href="#ic" x="62" y="6"/></g>
<g id="r51" transform="translate(1034 1085)"><rect class="b cvd" width="73" height="32" rx="5"/><text class="t" x="6" y="12">RHS_SZH_5403</text><text class="s" x="6" y="22">Coded Value Domain</text><use href="#ic" x="62" y="6"/></g>
<g id="r52" transform="translate(527 1133)"><rect class="b cvd" width="73" height="32" rx="5"/><text class="t" x="6" y="12">RHS_AD_2630</text><text class="s" x="6" y="22">Coded Value Domain</text><use href="#ic" x="62" y="6"/></g>
<g id="r53" transform="translate(612 1133)"><rect class="b cvd" width="73" height="32" rx="5"/><text class="t" x="6" y="12">RHS_Tipo_Fuent</text><text class="s" x="6" y="22">Coded Value Domain</text><use href="#ic" x="62" y="6"/></g>
<g id="r54" transform="translate(698 1130)"><rect class="b cvd" width="73" height="32" rx="5"/><text class="t" x="6" y="12">RHS_SZH_2637</text><text class="s" x="6" y="22">Coded Value Domain</text><use href="#ic" x="62" y="6"/></g>
<g id="r55" transform="translate(783 1127)"><rect class="b cvd" width="73" height="32" rx="5"/><text class="t" x="6" y="12">Dom_Div_Pol</text><text class="s" x="6" y="22">Coded Value Domain</text><use href="#ic" x="62" y="6"/></g>
<g id="r56" transform="translate(870 1131)"><rect class="b cvd" width="73" height="32" rx="5"/><text class="t" x="6" y="12">RHS_Tipo_Flujo</text><text class="s" x="6" y="22">Coded Value Domain</text><use href="#ic" x="62" y="6"/></g>
<g id="r57" transform="translate(957 1130)"><rect class="b cvd" width="73" height="32" rx="5"/><text class="t" x="6" y="12">Dom_Cuenca_II</text><text class="s" x="6" y="22">Coded Value Domain</text><use href="#ic" x="62" y="6"/></g>
<g id="r58" transform="translate(1040 1132)"><rect class="b cvd" width="73" height="32" rx="5"/><text class="t" x="6" y="12">RHS_AD_2605</text><text class="s" x="6" y="22">Coded Value Domain</text><use href="#ic" x="62" y="6"/></g>
<g id="r59" transform="translate(527 1181)"><rect class="b cvd" width="73" height="32" rx="5"/><text class="t" x="6" y="12">RHS_AD_2610</text><text class="s" x="6" y="22">Coded Value Domain</text><use href="#ic" x="62" y="6"/></g>
<g id="r60" transform="translate(612 1178)"><rect class="b cvd" width="73" height="32" rx="5"/><text class="t" x="6" y="12">RHS_AD_5309</text><text class="s" x="6" y="22">Coded Value Domain</text><use href="#ic" x="62" y="6"/></g>
<g id="r61" transform="translate(697 1178)"><rect class="b cvd" width="73" height="32" rx="5"/><text class="t" x="6" y="12">RHS_Tipo_Docu</text><text class="s" x="6" y="22">Coded Value Domain</text><use href="#ic" x="62" y="6"/></g>
<g id="r62" transform="translate(782 1180)"><rect class="b cvd" width="73" height="32" rx="5"/><text class="t" x="6" y="12">RHS_AD_5407</text><text class="s" x="6" y="22">Coded Value Domain</text><use href="#ic" x="62" y="6"/></g>
<g id="r63" transform="translate(868 1178)"><rect class="b cvd" width="73" height="32" rx="5"/><text class="t" x="6" y="12">RHS_SZH_5308</text><text class="s" x="6" y="22">Coded Value Domain</text><use href="#ic" x="62" y="6"/></g>
<g id="r64" transform="translate(956 1180)"><rect class="b cvd" width="73" height="32" rx="5"/><text class="t" x="6" y="12">RHS_Hidro_Zon</text><text class="s" x="6" y="22">Coded Value Domain</text><use href="#ic" x="62" y="6"/></g>
<g id="r65" transform="translate(1040 1180)"><rect class="b cvd" width="73" height="32" rx="5"/><text class="t" x="6" y="12">RHS_SZH_2631</text><text class="s" x="6" y="22">Coded Value Domain</text><use href="#ic" x="62" y="6"/></g>
</g>
</svg>
